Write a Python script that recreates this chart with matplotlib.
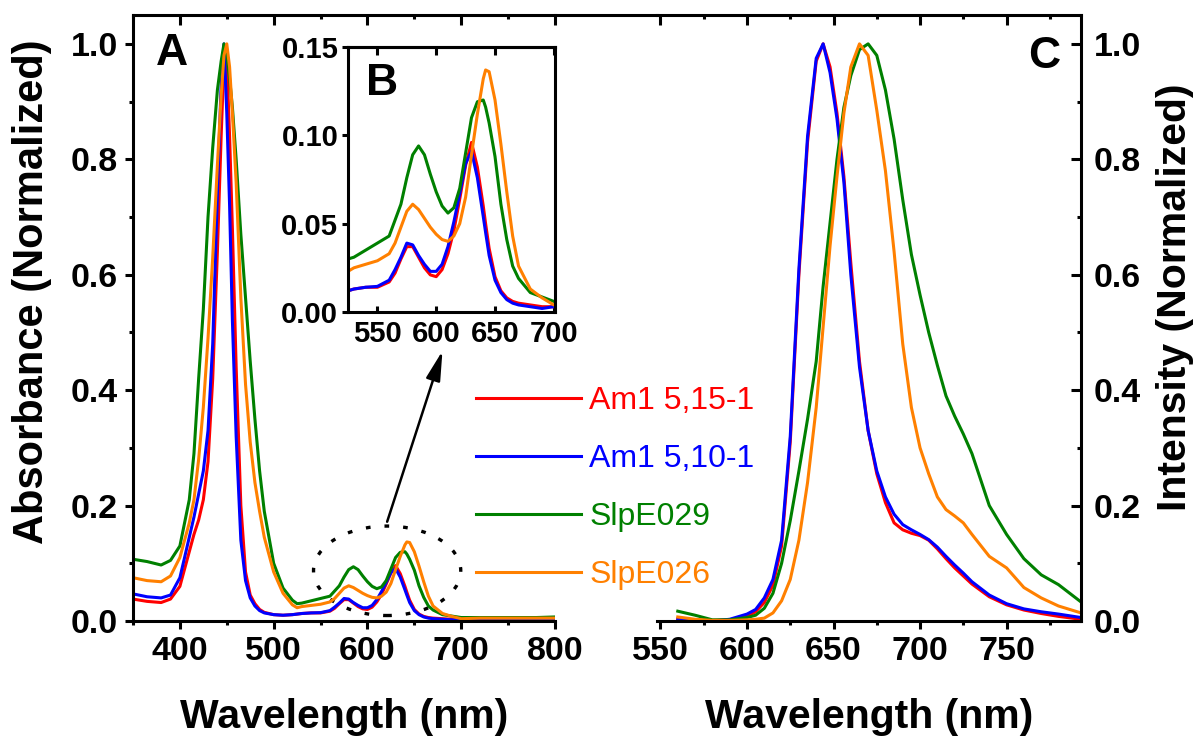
import matplotlib
matplotlib.use("Agg")
import matplotlib.pyplot as plt
from matplotlib.patches import Ellipse
from matplotlib.lines import Line2D
from matplotlib.ticker import MultipleLocator, FormatStrFormatter

plt.rcParams['font.family'] = ['Liberation Sans', 'DejaVu Sans']
plt.rcParams['font.weight'] = 'bold'

# ---- data ----
labels = ['Am1 5,15-1', 'Am1 5,10-1', 'SlpE029', 'SlpE026']
colors = ['#ff0000', '#0000ff', '#008000', '#ff8000']

# absorbance (normalized), panels A and B
abs_nm = [350, 365, 380, 390, 400, 410, 415, 420, 425, 430, 435, 440, 444, 447, 450,
          453, 456, 460, 465, 470, 475, 480, 485, 490, 500, 510, 520, 525, 530, 540,
          550, 560, 565, 570, 575, 580, 585, 590, 595, 600, 605, 610, 615, 620, 625,
          630, 635, 640, 642, 645, 650, 655, 660, 665, 670, 680, 690, 700, 720, 740,
          760, 780, 800]
abs_red = [.038, .034, .032, .038, .060, .12, .15, .175, .21, .276, .42, .64, .84, .97, .97,
           .84, .68, .44, .20, .085, .045, .030, .020, .015, .011, .010, .011, .012, .013, .014,
           .014, .017, .022, .030, .037, .037, .031, .025, .021, .020, .024, .033, .046, .064, .083,
           .096, .082, .060, .050, .036, .020, .012, .008, .006, .005, .004, .003, .003, .003, .003,
           .003, .003, .003]
abs_blue = [.047, .042, .040, .045, .075, .145, .18, .22, .26, .33, .48, .74, .93, 1.0, .88,
            .72, .52, .32, .14, .07, .04, .026, .018, .014, .011, .010, .011, .012, .013, .014,
            .0145, .018, .024, .031, .039, .038, .032, .027, .023, .023, .027, .037, .051, .067, .084,
            .091, .076, .054, .045, .032, .018, .011, .007, .005, .004, .003, .002, .003, .003, .003,
            .003, .003, .003]
abs_green = [.107, .103, .097, .105, .13, .21, .29, .42, .54, .70, .82, .92, .97, 1.0, .98,
             .94, .89, .80, .67, .56, .45, .35, .26, .19, .10, .057, .036, .030, .031, .035,
             .039, .043, .052, .061, .076, .089, .094, .089, .078, .068, .060, .056, .059, .070, .090,
             .110, .119, .120, .116, .107, .088, .061, .041, .026, .019, .011, .0085, .006, .006, .006,
             .006, .006, .007]
abs_orange = [.075, .070, .068, .078, .11, .17, .21, .28, .37, .49, .63, .79, .91, .98, 1.0,
              .96, .88, .76, .56, .41, .31, .24, .19, .145, .085, .048, .028, .023, .025, .027,
              .029, .033, .039, .048, .057, .061, .058, .053, .048, .044, .041, .040, .043, .050, .065,
              .089, .112, .132, .137, .136, .120, .095, .068, .043, .026, .013, .008, .004, .005, .005,
              .005, .005, .005]

# emission (normalized), panel C
em_nm = [560, 570, 580, 590, 600, 605, 610, 615, 620, 625, 630, 635, 640, 644, 648, 652,
         656, 660, 665, 670, 675, 680, 685, 690, 695, 700, 705, 710, 715, 720, 725, 730,
         740, 750, 760, 770, 780, 793]
em_red = [.004, .002, .001, .002, .008, .016, .032, .062, .13, .31, .60, .83, .97, 1.0, .96, .88,
          .77, .62, .45, .33, .255, .205, .17, .158, .152, .148, .140, .125, .108, .092, .078, .064,
          .042, .028, .019, .013, .008, .003]
em_blue = [.002, .001, .000, .003, .012, .020, .040, .072, .14, .32, .61, .84, .975, 1.0, .95, .87,
           .76, .60, .44, .33, .26, .215, .185, .167, .158, .150, .141, .128, .112, .097, .083, .068,
           .045, .030, .021, .016, .012, .006]
em_green = [.017, .010, .002, .002, .006, .010, .022, .048, .10, .174, .26, .35, .45, .58, .69, .80,
            .89, .945, .99, 1.0, .98, .92, .835, .73, .635, .565, .50, .443, .39, .355, .324, .29,
            .20, .15, .108, .08, .063, .033]
em_orange = [.007, .003, .001, .001, .002, .003, .005, .014, .035, .072, .14, .24, .37, .51, .65, .77,
             .88, .96, 1.0, .98, .885, .78, .64, .48, .37, .30, .255, .215, .193, .182, .170, .150,
             .112, .092, .058, .040, .026, .014]

abs_series = [abs_red, abs_blue, abs_green, abs_orange]
em_series = [em_red, em_blue, em_green, em_orange]

W, H = 1197, 736
fig = plt.figure(figsize=(W / 100, H / 100), dpi=100)


def box(x0, y0, x1, y1):
    # pixel box (top-left origin) -> figure fraction rect
    return [x0 / W, 1 - y1 / H, (x1 - x0) / W, (y1 - y0) / H]


LW = 2.2
TICK = dict(width=LW, labelsize=24.5, pad=5)

ax = fig.add_axes(box(133, 15, 555, 621))
ax2 = fig.add_axes(box(657, 15, 1081, 621))
axin = fig.add_axes(box(348, 47, 555, 312))

for y, c in zip(abs_series, colors):
    ax.plot(abs_nm, y, color=c, lw=LW)
    axin.plot(abs_nm, y, color=c, lw=LW)
for y, c in zip(em_series, colors):
    ax2.plot(em_nm, y, color=c, lw=LW)

# ---- panel A ----
ax.set_xlim(350, 800)
ax.set_ylim(0, 1.05)
ax.xaxis.set_major_locator(MultipleLocator(100))
ax.xaxis.set_minor_locator(MultipleLocator(50))
ax.yaxis.set_major_locator(MultipleLocator(0.2))
ax.yaxis.set_minor_locator(MultipleLocator(0.1))
ax.yaxis.set_major_formatter(FormatStrFormatter('%.1f'))
ax.tick_params(which='both', direction='out', top=False, right=False, **TICK)
ax.tick_params(which='major', length=6)
ax.tick_params(which='minor', length=3, width=LW)
ax.spines['right'].set_visible(False)
ax.spines['top'].set_visible(False)
for s in ['left', 'bottom']:
    ax.spines[s].set_linewidth(LW)
sec = ax.secondary_xaxis('top')
sec.xaxis.set_major_locator(MultipleLocator(100))
sec.xaxis.set_minor_locator(MultipleLocator(50))
sec.tick_params(which='both', direction='in', labeltop=False, width=LW)
sec.tick_params(which='major', length=7)
sec.tick_params(which='minor', length=3)
sec.spines['top'].set_linewidth(LW)

ax.add_patch(Ellipse((621, 0.087), 157, 0.155, fill=False, color='black',
                     lw=2.4, linestyle=(0, (1.4, 4.2))))
ax.annotate('', xy=(680, 0.468), xytext=(621, 0.172),
            arrowprops=dict(arrowstyle='-|>,head_length=0.9,head_width=0.22',
                            color='black', lw=1.8, mutation_scale=20,
                            shrinkA=0, shrinkB=0))
ax.text(0.0924, 0.937, 'A', transform=ax.transAxes, fontsize=32,
        fontweight='bold', ha='center', va='center')

# ---- inset B ----
axin.set_xlim(525, 701)
axin.set_ylim(0, 0.15)
axin.xaxis.set_major_locator(MultipleLocator(50))
axin.yaxis.set_major_locator(MultipleLocator(0.05))
axin.yaxis.set_major_formatter(FormatStrFormatter('%.2f'))
axin.tick_params(direction='out', length=4, width=LW, labelsize=21, pad=3)
axin.tick_params(axis='x', direction='in', pad=6)
for s in axin.spines.values():
    s.set_linewidth(LW)
secin = axin.secondary_xaxis('top')
secin.xaxis.set_major_locator(MultipleLocator(50))
secin.tick_params(direction='in', labeltop=False, width=LW, length=6)
secin.spines['top'].set_linewidth(LW)
axin.text(0.164, 0.864, 'B', transform=axin.transAxes, fontsize=32,
          fontweight='bold', ha='center', va='center')

# ---- panel C ----
ax2.set_xlim(548, 793)
ax2.set_ylim(0, 1.05)
ax2.xaxis.set_major_locator(MultipleLocator(50))
ax2.xaxis.set_minor_locator(MultipleLocator(25))
ax2.yaxis.set_major_locator(MultipleLocator(0.2))
ax2.yaxis.set_minor_locator(MultipleLocator(0.1))
ax2.yaxis.set_major_formatter(FormatStrFormatter('%.1f'))
ax2.tick_params(axis='x', which='both', direction='out', top=False, **TICK)
ax2.tick_params(axis='x', which='major', length=6)
ax2.tick_params(axis='x', which='minor', length=3)
ax2.yaxis.tick_right()
ax2.tick_params(axis='y', which='both', direction='in', left=False, right=True,
                labelleft=False, labelright=True, width=LW, labelsize=24.5, pad=9)
ax2.tick_params(axis='y', which='major', length=7)
ax2.tick_params(axis='y', which='minor', length=3)
ax2.spines['left'].set_visible(False)
ax2.spines['top'].set_visible(False)
for s in ['right', 'bottom']:
    ax2.spines[s].set_linewidth(LW)
sec2 = ax2.secondary_xaxis('top')
sec2.xaxis.set_major_locator(MultipleLocator(50))
sec2.xaxis.set_minor_locator(MultipleLocator(25))
sec2.tick_params(which='both', direction='in', labeltop=False, width=LW)
sec2.tick_params(which='major', length=7)
sec2.tick_params(which='minor', length=3)
sec2.spines['top'].set_linewidth(LW)
ax2.text(0.913, 0.931, 'C', transform=ax2.transAxes, fontsize=32,
         fontweight='bold', ha='center', va='center')

# top frame line joining the two panels
fig.add_artist(Line2D([555 / W, 657 / W], [1 - 15 / H, 1 - 15 / H],
                      transform=fig.transFigure, color='black', lw=LW))

# legend
handles = [Line2D([], [], color=c, lw=LW) for c in colors]
fig.legend(handles, labels, loc='upper left', bbox_to_anchor=(476 / W, 1 - 386 / H),
           frameon=False, borderpad=0, borderaxespad=0, handlelength=3.3,
           handletextpad=0.25, labelspacing=0.88, labelcolor='linecolor',
           prop=dict(family='Liberation Sans', weight='normal', size=23))

# axis titles
fig.text(32 / W, 1 - 292 / H, 'Absorbance (Normalized)', rotation=90,
         ha='center', va='center', fontsize=30, fontweight='bold')
fig.text(1175 / W, 1 - 297 / H, 'Intensity (Normalized)', rotation=90,
         ha='center', va='center', fontsize=29.5, fontweight='bold')
fig.text(344 / W, 1 - 728 / H, 'Wavelength (nm)', ha='center', va='baseline',
         fontsize=29.5, fontweight='bold')
fig.text(869 / W, 1 - 728 / H, 'Wavelength (nm)', ha='center', va='baseline',
         fontsize=29.5, fontweight='bold')

fig.savefig('out.png', dpi=100)
